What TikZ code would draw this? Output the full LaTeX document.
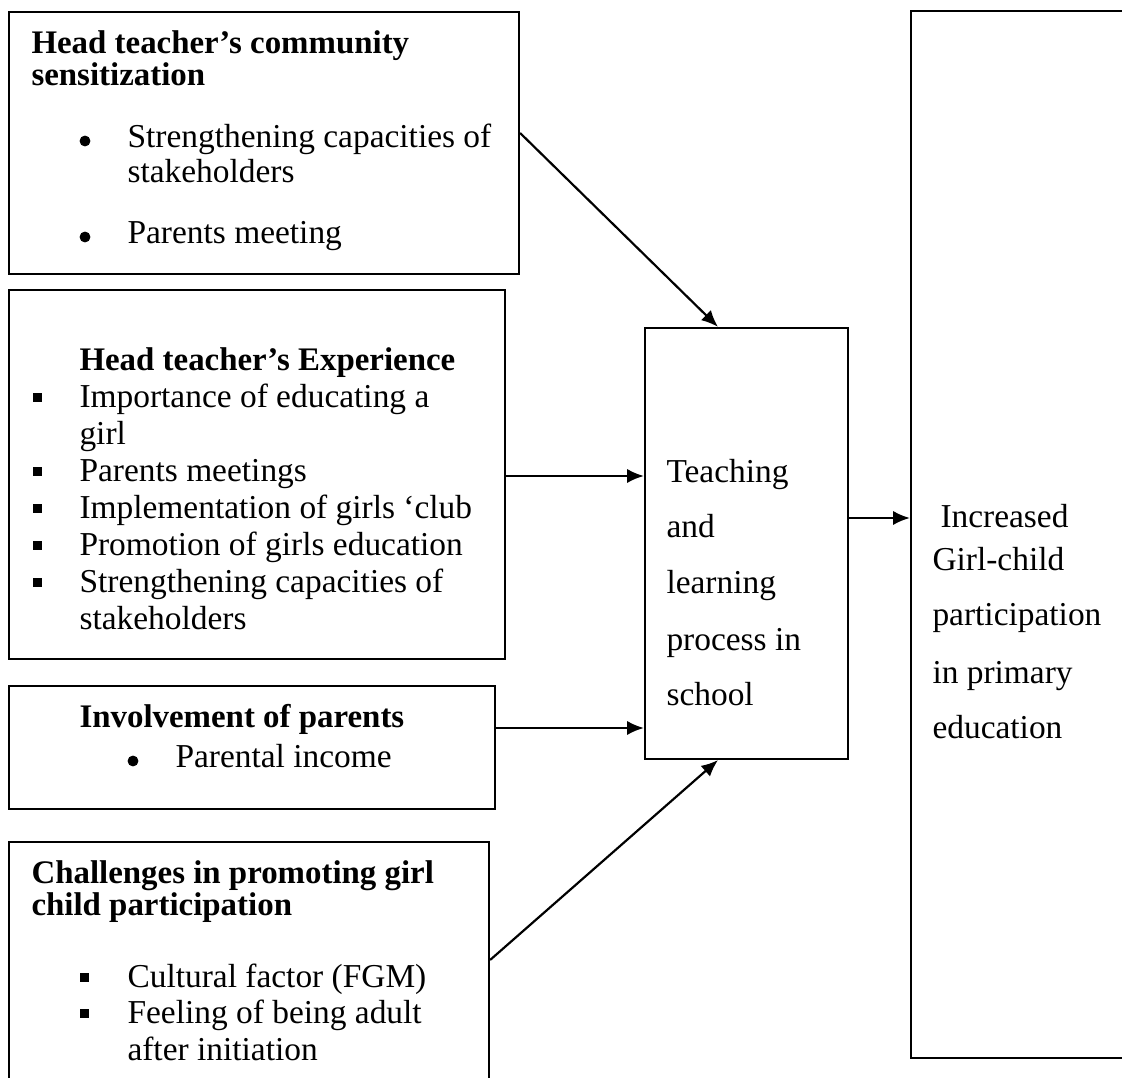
\documentclass[tikz,border=0pt]{standalone}
\usepackage{fontspec}
\setmainfont{Liberation Serif}
\usetikzlibrary{arrows.meta,fit}

\tikzset{
  box/.style={draw, line width=0.85pt, inner sep=0pt},
  txt/.style={anchor=base west, inner sep=0pt, font=\fontsize{13}{15}\selectfont},
  head/.style={txt, font=\fontsize{12.8}{15}\selectfont\bfseries},
  arr/.style={-{Latex[length=6.5pt,width=5.5pt]}, line width=0.85pt},
}

\begin{document}
\begin{tikzpicture}[x=0.389pt, y=-0.389pt]
    \clip (0,0) rectangle (1122,1078);
    % corners of the boxes
    \coordinate (a1) at (9,12);    \coordinate (a2) at (519,274);
    \coordinate (b1) at (9,290);   \coordinate (b2) at (505,659);
    \coordinate (c1) at (9,686);   \coordinate (c2) at (495,809);
    \coordinate (d1) at (9,842);   \coordinate (d2) at (489,1110);
    \coordinate (e1) at (645,328); \coordinate (e2) at (848,759);
    \coordinate (f1) at (911,11);  \coordinate (f2) at (1140,1058);
    \node[box, fit=(a1)(a2)] (sens) {};
    \node[box, fit=(b1)(b2)] (exper) {};
    \node[box, fit=(c1)(c2)] (parent) {};
    \node[box, fit=(d1)(d2)] (chall) {};
    \node[box, fit=(e1)(e2)] (teach) {};
    \node[box, fit=(f1)(f2)] (outc) {};

    % community sensitization
    \node[head] (sens1) at (31,54) {Head teacher’s community};
    \node[head] (sens2) at (31,86) {sensitization};
    \node[txt] (sens3) at (127,148) {Strengthening capacities of};
    \node[txt] (sens4) at (127,183) {stakeholders};
    \node[txt] (sens5) at (127,244) {Parents meeting};
    \filldraw (85,141) circle (1.9pt);
    \filldraw (85,237) circle (1.9pt);

    % experience
    \node[head] (exp0) at (79,371) {Head teacher’s Experience};
    \node[txt] (exp1) at (79,408) {Importance of educating a};
    \node[txt] (exp2) at (79,445) {girl};
    \node[txt] (exp3) at (79,482) {Parents meetings};
    \node[txt] (exp4) at (79,519) {Implementation of girls ‘club};
    \node[txt] (exp5) at (79,556) {Promotion of girls education};
    \node[txt] (exp6) at (79,593) {Strengthening capacities of};
    \node[txt] (exp7) at (79,630) {stakeholders};
    \foreach \y in {408,482,519,556,593}
      \fill (33,\y-6) rectangle (42,\y-15);

    % parents
    \node[head] (par0) at (79,728) {Involvement of parents};
    \node[txt] (par1) at (175,768) {Parental income};
    \filldraw (133,761) circle (1.9pt);

    % challenges
    \node[head] (ch0) at (31,884) {Challenges in promoting girl};
    \node[head] (ch1) at (31,916) {child participation};
    \node[txt] (ch2) at (127,988) {Cultural factor (FGM)};
    \node[txt] (ch3) at (127,1024) {Feeling of being adult};
    \node[txt] (ch4) at (127,1061) {after initiation};
    \foreach \y in {988,1024}
      \fill (80,\y-6) rectangle (89,\y-15);

    % middle box
    \node[txt] (t1) at (666,483) {Teaching};
    \node[txt] (t2) at (666,538) {and};
    \node[txt] (t3) at (666,594) {learning};
    \node[txt] (t4) at (666,651) {process in};
    \node[txt] (t5) at (666,706) {school};

    % outcome
    \node[txt] (o1) at (940,528) {Increased};
    \node[txt] (o2) at (932,571) {Girl-child};
    \node[txt] (o3) at (932,626) {participation};
    \node[txt] (o4) at (932,684) {in primary};
    \node[txt] (o5) at (932,739) {education};

    % arrows
    \draw[arr] (sens.east |- 0,133) -- (teach.north -| 718,0);
    \draw[arr] (exper.east |- 0,476) -- (teach.west |- 0,476);
    \draw[arr] (parent.east |- 0,728) -- (teach.west |- 0,728);
    \draw[arr] (chall.east |- 0,960) -- (teach.south -| 718,0);
    \draw[arr] (teach.east |- 0,518) -- (outc.west |- 0,518);
\end{tikzpicture}
\end{document}
